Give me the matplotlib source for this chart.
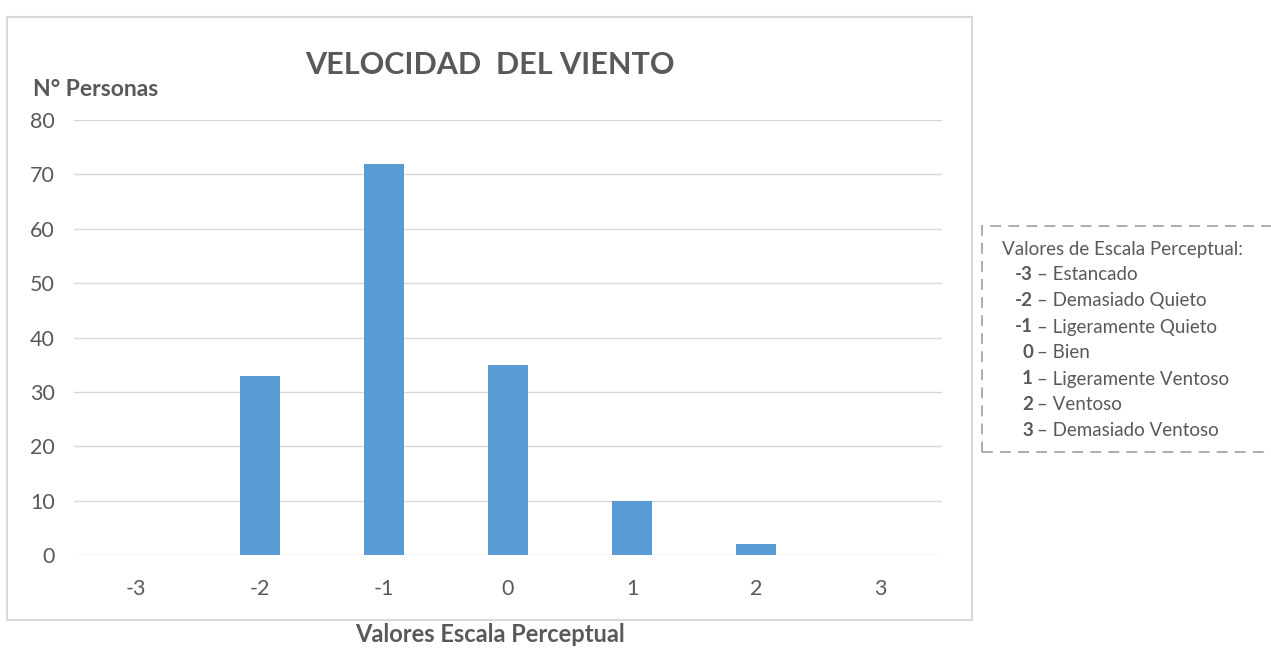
import matplotlib.pyplot as plt
import matplotlib.patches as patches

plt.rcParams['font.family'] = ['Lato', 'DejaVu Sans']

# data
categorias = [-3, -2, -1, 0, 1, 2, 3]
personas = [0, 33, 72, 35, 10, 2, 0]
escala_num = ['-3', '-2', '-1', '0', '1', '2', '3']
escala_txt = ['Estancado', 'Demasiado Quieto', 'Ligeramente Quieto', 'Bien',
              'Ligeramente Ventoso', 'Ventoso', 'Demasiado Ventoso']

W, H = 1271, 648
gris = '#595959'
fig = plt.figure(figsize=(W / 100, H / 100), dpi=100)

# outer chart frame
fig.patches.append(patches.Rectangle((7 / W, 1 - 620 / H), 965 / W, 603 / H,
                                     transform=fig.transFigure, fill=False,
                                     edgecolor='#d9d9d9', linewidth=1.5))

ax = fig.add_axes([74 / W, 1 - 555 / H, 868 / W, 435 / H])
ax.bar(categorias, personas, width=0.315, color='#5b9bd5', zorder=3)
ax.set_xlim(-3.5, 3.5)
ax.set_ylim(0, 80)
ax.set_yticks(range(0, 81, 10))
ax.set_xticks(categorias)
ax.set_xticklabels(escala_num)
ax.grid(axis='y', color='#d9d9d9', linewidth=1, zorder=0)
for s in ax.spines.values():
    s.set_visible(False)
ax.tick_params(length=0, labelsize=15.5, colors=gris)
ax.tick_params(axis='x', pad=17)
ax.tick_params(axis='y', pad=14)

fig.text(490 / W, 1 - 65 / H, 'VELOCIDAD  DEL VIENTO', ha='center', va='center',
         fontsize=22, fontweight='bold', color=gris)
fig.text(33 / W, 1 - 90 / H, 'N° Personas', ha='left', va='center',
         fontsize=16.5, fontweight='bold', color=gris)
fig.text(490 / W, 1 - 635 / H, 'Valores Escala Perceptual', ha='center', va='center',
         fontsize=17, fontweight='bold', color=gris)

# legend box with dashed border
fig.patches.append(patches.Rectangle((982 / W, 1 - 452 / H), 300 / W, 226 / H,
                                     transform=fig.transFigure, fill=False,
                                     edgecolor='#a6a6a6', linewidth=1.3,
                                     linestyle=(0, (6, 4))))
fig.text(1002 / W, 1 - 249 / H, 'Valores de Escala Perceptual:', ha='left', va='center',
         fontsize=13.5, color=gris)
for i, (n, t) in enumerate(zip(escala_num, escala_txt)):
    y = 1 - (275 + 26 * i) / H
    fig.text(1033 / W, y, n, ha='right', va='center', fontsize=13.5,
             fontweight='bold', color=gris)
    fig.text(1037 / W, y, '– ' + t, ha='left', va='center', fontsize=13.5, color=gris)

fig.savefig('out.png', dpi=100)
